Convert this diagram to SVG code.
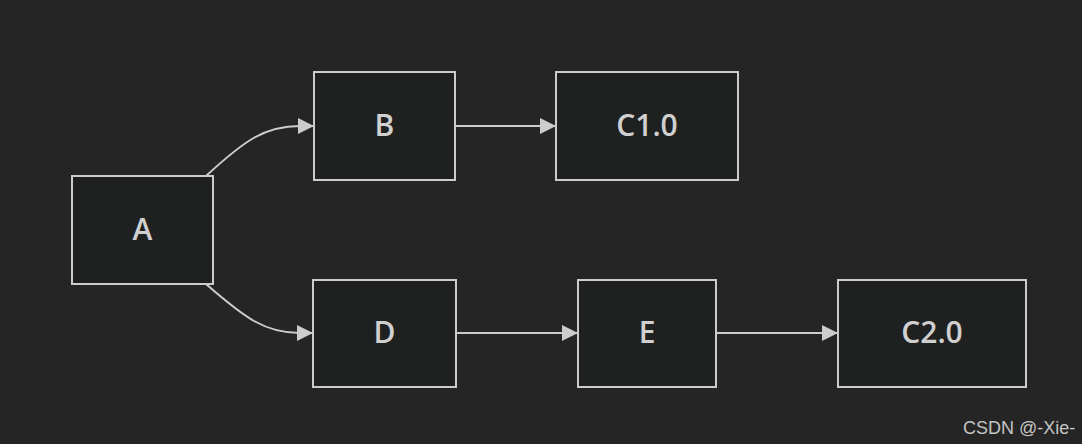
<svg xmlns="http://www.w3.org/2000/svg" width="1082" height="444" viewBox="0 0 1082 444">
<style>
.node rect{fill:#1f2020;stroke:#cccccc;stroke-width:2}
.node text{fill:#d0d0d0;font-family:"Open Sans","DejaVu Sans",sans-serif;font-size:30px;font-weight:600;text-anchor:middle}
.edge{fill:none;stroke:#cccccc;stroke-width:2}
.wm{fill:#c4c4c4;font-family:"Liberation Sans",Arial,sans-serif;font-size:18px}
</style>
<defs>
<marker id="arrow" viewBox="0 0 10 10" refX="10" refY="5" markerWidth="16" markerHeight="16" markerUnits="userSpaceOnUse" orient="auto">
<path d="M0,0 L10,5 L0,10 z" fill="#cccccc"/>
</marker>
</defs>
<rect width="1082" height="444" fill="#252525"/>
<g id="connectors">
<path class="edge" d="M206,176 C245,140 265,126 300,126 L314,126" marker-end="url(#arrow)"/>
<path class="edge" d="M206,284 C245,318 265,333 300,333 L313,333" marker-end="url(#arrow)"/>
<path class="edge" d="M455,126 L556,126" marker-end="url(#arrow)"/>
<path class="edge" d="M456,333 L578,333" marker-end="url(#arrow)"/>
<path class="edge" d="M716,333 L838,333" marker-end="url(#arrow)"/>
</g>
<g id="node-A" class="node"><rect x="72" y="176" width="141" height="108"/><text x="142.5" y="240">A</text></g>
<g id="node-B" class="node"><rect x="314" y="72" width="141" height="108"/><text x="384.5" y="136">B</text></g>
<g id="node-C1" class="node"><rect x="556" y="72" width="182" height="108"/><text x="647" y="136">C1.0</text></g>
<g id="node-D" class="node"><rect x="313" y="280" width="143" height="107"/><text x="384.5" y="343">D</text></g>
<g id="node-E" class="node"><rect x="578" y="280" width="138" height="107"/><text x="647" y="343">E</text></g>
<g id="node-C2" class="node"><rect x="838" y="280" width="188" height="107"/><text x="932" y="343">C2.0</text></g>
<text class="wm" x="963" y="434">CSDN @-Xie-</text>
</svg>
